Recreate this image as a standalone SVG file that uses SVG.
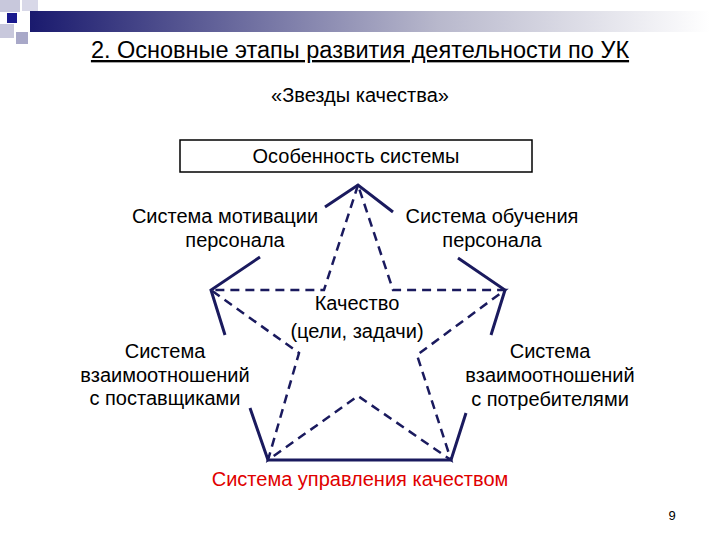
<svg xmlns="http://www.w3.org/2000/svg" width="720" height="540" viewBox="0 0 720 540">
<defs>
<linearGradient id="g" x1="0" x2="1" y1="0" y2="0"><stop offset="0" stop-color="#1a1a6e"/><stop offset="0.6" stop-color="#b8b8cc"/><stop offset="1" stop-color="#ffffff"/></linearGradient>
</defs>
<style>
text{font-family:"Liberation Sans",Arial,sans-serif;font-size:20px;fill:#000;text-anchor:middle}
.s{stroke:#1a1a5e;stroke-width:3;fill:none}
.d{stroke:#1a1a5e;stroke-width:2.5;fill:none;stroke-dasharray:9,6}
</style>
<rect width="720" height="540" fill="#fff"/>
<g id="header">
<rect x="30" y="11" width="680" height="21" fill="url(#g)"/>
<rect x="0" y="0" width="20" height="12" fill="#c8c8dc"/>
<rect x="22" y="0" width="16" height="11" fill="#d8d8e8"/>
<rect x="7" y="13" width="10" height="10" fill="#1a1a8e"/>
<rect x="0" y="24" width="14" height="14" fill="#c8c8dc"/>
<rect x="16" y="32" width="12" height="12" fill="#a8a8c8"/>
</g>
<text x="360" y="58" style="font-size:23.5px" text-decoration="underline">2. Основные этапы развития деятельности по УК</text>
<text x="360" y="102">«Звезды качества»</text>
<g id="top-box"><rect x="180" y="140" width="352" height="32" fill="#fff" stroke="#000" stroke-width="1.5"/><text x="356" y="163">Особенность системы</text></g>
<g id="connectors">
<path class="s" d="M325,207 L358,185 L393,212"/>
<path class="s" d="M260,257 L211,290 L225,335"/>
<path class="s" d="M458,258 L505,290 L491,335"/>
<path class="s" d="M250,408 L268,460 L451,460 L466,413"/>
<path class="d" d="M358,185 L324,290 L211,290 L299,353 L268,460 L358,396 L451,460 L417,355 L505,290 L393,290 Z"/>
</g>
<g id="n1"><text x="225" y="223">Система мотивации</text><text x="235" y="247">персонала</text></g>
<g id="n2"><text x="492" y="223">Система обучения</text><text x="492" y="247">персонала</text></g>
<g id="n3"><text x="357" y="310">Качество</text><text x="357" y="338">(цели, задачи)</text></g>
<g id="n4"><text x="165" y="358">Система</text><text x="165" y="382">взаимоотношений</text><text x="165" y="405">с поставщиками</text></g>
<g id="n5"><text x="550" y="358">Система</text><text x="550" y="382">взаимоотношений</text><text x="550" y="406">с потребителями</text></g>
<g id="n6"><text x="360" y="486" style="fill:#e00000">Система управления качеством</text></g>
<text x="672" y="520" style="font-size:13px">9</text>
</svg>
